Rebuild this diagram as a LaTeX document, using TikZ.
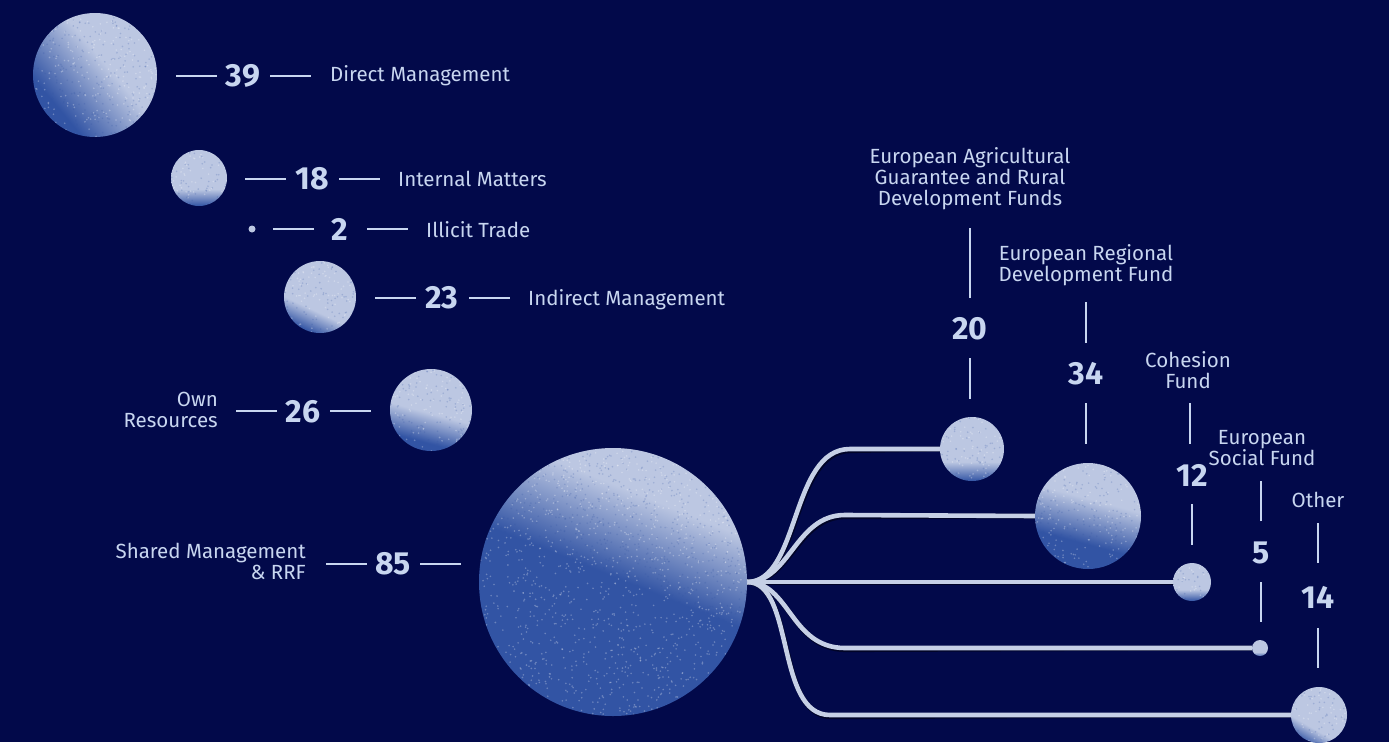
\documentclass[tikz,border=0pt]{standalone}
\usepackage{fontspec}
\setmainfont{Fira Sans}
\usetikzlibrary{calc}
\definecolor{navy}{RGB}{2,9,74}
\definecolor{ink}{RGB}{200,214,240}
\definecolor{balllt}{RGB}{188,199,226}
\definecolor{balldk}{RGB}{50,84,164}
\definecolor{stem}{RGB}{198,208,230}
\pgfdeclareverticalshading{ballheavy}{100bp}{color(0bp)=(balldk); color(51bp)=(balldk); color(67bp)=(balllt); color(100bp)=(balllt)}
\pgfdeclareverticalshading{balldiag}{100bp}{color(0bp)=(balldk); color(30bp)=(balldk); color(56bp)=(balllt); color(100bp)=(balllt)}
\pgfdeclareverticalshading{ballhalf}{100bp}{color(0bp)=(balldk); color(37bp)=(balldk); color(58bp)=(balllt); color(100bp)=(balllt)}
\pgfdeclareverticalshading{ballmid}{100bp}{color(0bp)=(balldk); color(30bp)=(balldk); color(48bp)=(balllt); color(100bp)=(balllt)}
\pgfdeclareverticalshading{balllow}{100bp}{color(0bp)=(balldk); color(25bp)=(balldk); color(40bp)=(balllt); color(100bp)=(balllt)}
\pgfdeclareverticalshading{ballvlow}{100bp}{color(0bp)=(balldk); color(22bp)=(balldk); color(37bp)=(balllt); color(100bp)=(balllt)}
\pgfdeclarelayer{bg}
\pgfdeclarelayer{lines}
\pgfsetlayers{bg,lines,main}
\tikzset{
  ball/.style={circle, inner sep=0pt, outer sep=0pt, shade, shading=balllow, minimum size=#1},
  lbl/.style={text=ink, font=\fontsize{20.5}{21}\selectfont, inner sep=0pt},
  num/.style={text=ink, font=\fontsize{32}{32}\selectfont\bfseries, inner sep=0pt},
  tickln/.style={draw=ink, line width=2pt},
  branch/.style={draw=stem, line width=4.6pt},
  branchshadow/.style={draw=black, opacity=0.45, line width=5pt},
}
% grain texture inside a ball: node name, radius, number of grains
\newcommand{\grain}[3]{%
  \begin{scope}
  \clip (#1.center) circle (#2);
  \foreach \i in {1,...,#3}{
    \pgfmathsetmacro{\ga}{360*rnd}
    \pgfmathsetmacro{\gd}{#2*sqrt(rnd)}
    \fill[white, opacity=0.28] ($(#1.center)+(\ga:\gd)$) circle (0.9);
    \pgfmathsetmacro{\gb}{360*rnd}
    \pgfmathsetmacro{\ge}{#2*sqrt(rnd)}
    \fill[balldk, opacity=0.22] ($(#1.center)+(\gb:\ge)$) circle (0.9);
  }
  \end{scope}}
\begin{document}
\begin{tikzpicture}[x=1pt,y=-1pt]
\pgfmathsetseed{42}
\begin{pgfonlayer}{bg}
\fill[navy] (0,0) rectangle (1389,742);
\end{pgfonlayer}
\useasboundingbox (0,0) rectangle (1389,742);

% ---------- left column ----------
\node[ball=124pt, shading=balldiag, shading angle=-50] (c39) at (95,75) {};
\grain{c39}{62}{190}
\node[num, anchor=base] (n39) at (243,86.5) {39};
\node[lbl, anchor=base west] (l39) at (330,81) {Direct Management};
\draw[tickln] (n39.center) ++(-26,0) -- ++(-41,0);
\draw[tickln] (n39.center) ++(27,0) -- ++(41,0);

\node[ball=56pt, shading=balllow] (c18) at (199,178) {};
\grain{c18}{28}{40}
\node[num, anchor=base] (n18) at (312,189.5) {18};
\node[lbl, anchor=base west] (l18) at (398,186.5) {Internal Matters};
\draw[tickln] (n18.center) ++(-26,0) -- ++(-41,0);
\draw[tickln] (n18.center) ++(27,0) -- ++(41,0);

\node[circle, inner sep=0pt, minimum size=7pt, fill=balllt] (c2) at (252,229) {};
\node[num, anchor=base] (n2) at (340,240.5) {2};
\node[lbl, anchor=base west] (l2) at (426,237) {Illicit Trade};
\draw[tickln] (n2.center) ++(-26,0) -- ++(-41,0);
\draw[tickln] (n2.center) ++(27,0) -- ++(41,0);

\node[ball=72pt, shading=balllow, shading angle=-25] (c23) at (320,297) {};
\grain{c23}{36}{65}
\node[num, anchor=base] (n23) at (442,308.5) {23};
\node[lbl, anchor=base west] (l23) at (528,305) {Indirect Management};
\draw[tickln] (n23.center) ++(-26,0) -- ++(-41,0);
\draw[tickln] (n23.center) ++(27,0) -- ++(41,0);

\node[ball=82pt, shading=ballmid, shading angle=-15] (c26) at (431,410) {};
\grain{c26}{41}{85}
\node[num, anchor=base] (n26) at (303,422) {26};
\node[lbl, anchor=north east, align=right] (l26) at (218,392) {Own\\Resources};
\draw[tickln] (n26.center) ++(-26,0) -- ++(-41,0);
\draw[tickln] (n26.center) ++(27,0) -- ++(41,0);

\node[ball=268pt, shading=ballheavy, shading angle=-22] (c85) at (613,582) {};
\grain{c85}{134}{1000}
\node[num, anchor=base] (n85) at (393,574.5) {85};
\node[lbl, anchor=north east, align=right] (l85) at (306,543) {Shared Management\\\& RRF};
\draw[tickln] (n85.center) ++(-26,0) -- ++(-41,0);
\draw[tickln] (n85.center) ++(27,0) -- ++(41,0);

% ---------- right fan ----------
\node[ball=64pt, shading=balllow] (c20) at (972,449) {};
\grain{c20}{32}{50}
\node[ball=106pt, shading=ballhalf, shading angle=-15] (c34) at (1088,516) {};
\grain{c34}{53}{140}
\node[ball=38pt, shading=balllow] (c12) at (1192,582) {};
\grain{c12}{19}{18}
\node[ball=16pt, shading=ballvlow] (c5) at (1260,648) {};
\node[ball=56pt, shading=ballvlow, shading angle=-30] (c14) at (1319,715) {};
\grain{c14}{28}{40}

\begin{pgfonlayer}{lines}
\foreach \s/\dx/\dy in {branchshadow/1/-1.6, branch/0/0}{
  \begin{scope}[xshift=\dx pt, yshift=\dy pt]
  \draw[\s] (c85.east) .. controls (800,582) and (790,449) .. (850,449) -- (c20.west);
  \draw[\s] (c85.east) .. controls (790,582) and (795,515) .. (845,515) -- (c34.west);
  \draw[\s] (c85.east) -- (c12.west);
  \draw[\s] (c85.east) .. controls (790,582) and (790,648) .. (845,648) -- (c5.west);
  \draw[\s] (c85.east) .. controls (795,582) and (775,715) .. (830,715) -- (c14.west);
  \end{scope}
}
\end{pgfonlayer}

\node[num, anchor=base] (n20) at (970,339) {20};
\node[lbl, anchor=north, align=center] (l20) at (970,147) {European Agricultural\\Guarantee and Rural\\Development Funds};
\draw[tickln] (n20.center) ++(0,-30) -- ++(0,-70);
\draw[tickln] (n20.center) ++(0,30) -- ++(0,41);

\node[num, anchor=base] (n34) at (1086,384) {34};
\node[lbl, anchor=north, align=center] (l34) at (1086,244) {European Regional\\Development Fund};
\draw[tickln] (n34.center) ++(0,-30) -- ++(0,-41);
\draw[tickln] (n34.center) ++(0,30) -- ++(0,41);

\node[num, anchor=base] (n12) at (1192,486) {12};
\node[lbl, anchor=north, align=center] (l12) at (1188,351) {Cohesion\\Fund};
\draw[tickln] (n12.center) ++(-2,-31) -- ++(0,-41);
\draw[tickln] (n12.center) ++(0,29) -- ++(0,41);

\node[num, anchor=base] (n5) at (1261,563) {5};
\node[lbl, anchor=north, align=center] (l5) at (1262,430) {European\\Social Fund};
\draw[tickln] (n5.center) ++(0,-31) -- ++(0,-40);
\draw[tickln] (n5.center) ++(0,30) -- ++(0,40);

\node[num, anchor=base] (n14) at (1318,608) {14};
\node[lbl, anchor=north, align=center] (l14) at (1318,492) {Other};
\draw[tickln] (n14.center) ++(0,-34) -- ++(0,-40);
\draw[tickln] (n14.center) ++(0,31) -- ++(0,40);
\end{tikzpicture}
\end{document}
